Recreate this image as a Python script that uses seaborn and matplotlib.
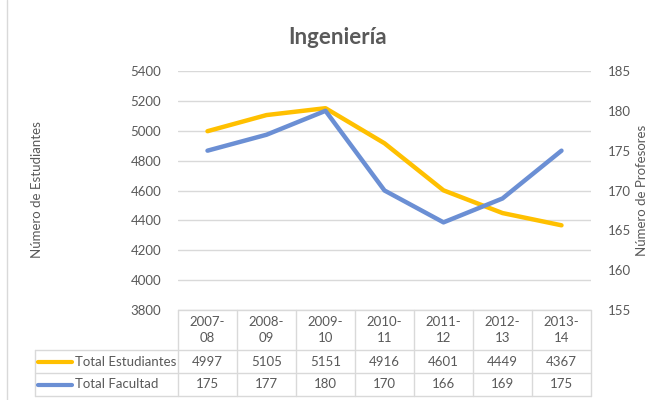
import seaborn as sns
import matplotlib.pyplot as plt
import matplotlib.transforms as mtrans
import pandas as pd

periodos = ["2007-\n08", "2008-\n09", "2009-\n10", "2010-\n11", "2011-\n12", "2012-\n13", "2013-\n14"]
estudiantes = [4997, 5105, 5151, 4916, 4601, 4449, 4367]
facultad = [175, 177, 180, 170, 166, 169, 175]

amarillo = "#FFC000"
azul = "#6B8FD4"
gris = "#595959"
linea = "#D9D9D9"

sns.set_theme(style="white")
plt.rcParams["font.family"] = ["Lato", "DejaVu Sans"]

df = pd.DataFrame({"x": range(len(periodos)), "est": estudiantes, "fac": facultad})

fig = plt.figure(figsize=(6.57, 4.0), dpi=100)
ax = fig.add_axes([178 / 657, 1 - 310 / 400, 413 / 657, 239 / 400])
ax2 = ax.twinx()

sns.lineplot(data=df, x="x", y="est", ax=ax, color=amarillo, lw=3.2)
sns.lineplot(data=df, x="x", y="fac", ax=ax2, color=azul, lw=3.2)

ax.set_xlim(-0.5, len(periodos) - 0.5)
ax.set_ylim(3800, 5400)
ax.set_yticks(range(3800, 5401, 200))
ax2.set_ylim(155, 185)
ax2.set_yticks(range(155, 186, 5))
ax.set_xticks([])
ax.set_xlabel("")
ax.set_ylabel("")
ax2.set_ylabel("")
ax.grid(axis="y", color=linea, lw=1)
ax.set_axisbelow(True)
for a in (ax, ax2):
    for s in a.spines.values():
        s.set_visible(False)
ax.tick_params(axis="y", length=0, pad=12, labelsize=9.5, labelcolor=gris)
ax2.tick_params(axis="y", length=0, pad=12, labelsize=9.5, labelcolor=gris)

fig.text(37 / 657, 1 - 190 / 400, "Número de Estudiantes", rotation=90, ha="center", va="center",
         fontsize=9.5, color=gris)
fig.text(642 / 657, 1 - 190 / 400, "Número de Profesores", rotation=90, ha="center", va="center",
         fontsize=9.5, color=gris)
fig.text(338 / 657, 1 - 38 / 400, "Ingeniería", ha="center", va="center", fontsize=16,
         fontweight="bold", color=gris)

# tabla de datos
bt = mtrans.blended_transform_factory(ax.transData, ax.transAxes)
h_head = 40 / 239
h_row = 23 / 239
y1 = -h_head
y2 = y1 - h_row
y3 = y2 - h_row
x_leg = (35 - 178) / 413
kw = dict(color=linea, lw=1, clip_on=False)
ax.plot([-0.5, len(periodos) - 0.5], [0, 0], transform=bt, **kw)
for yy in (y1, y2, y3):
    ax.plot([x_leg, 1], [yy, yy], transform=ax.transAxes, **kw)
ax.plot([x_leg, x_leg], [y1, y3], transform=ax.transAxes, **kw)
for i in range(len(periodos) + 1):
    ax.plot([i - 0.5, i - 0.5], [0, y3], transform=bt, **kw)

for i, p in enumerate(periodos):
    ax.text(i, y1 / 2, p, transform=bt, ha="center", va="center", fontsize=9.5,
            color=gris, linespacing=1.5)
    ax.text(i, (y1 + y2) / 2, str(estudiantes[i]), transform=bt, ha="center", va="center",
            fontsize=9.5, color=gris)
    ax.text(i, (y2 + y3) / 2, str(facultad[i]), transform=bt, ha="center", va="center",
            fontsize=9.5, color=gris)

for yy, nombre, col in [((y1 + y2) / 2, "Total Estudiantes", amarillo),
                        ((y2 + y3) / 2, "Total Facultad", azul)]:
    ax.plot([(38 - 178) / 413, (72 - 178) / 413], [yy, yy], transform=ax.transAxes,
            color=col, lw=3, clip_on=False, solid_capstyle="round")
    ax.text((75 - 178) / 413, yy, nombre, transform=ax.transAxes, ha="left", va="center",
            fontsize=9.5, color=gris)

fig.add_artist(plt.Line2D([7 / 657, 7 / 657], [0, 1], color=linea, lw=1))

fig.savefig("out.png", dpi=100)
